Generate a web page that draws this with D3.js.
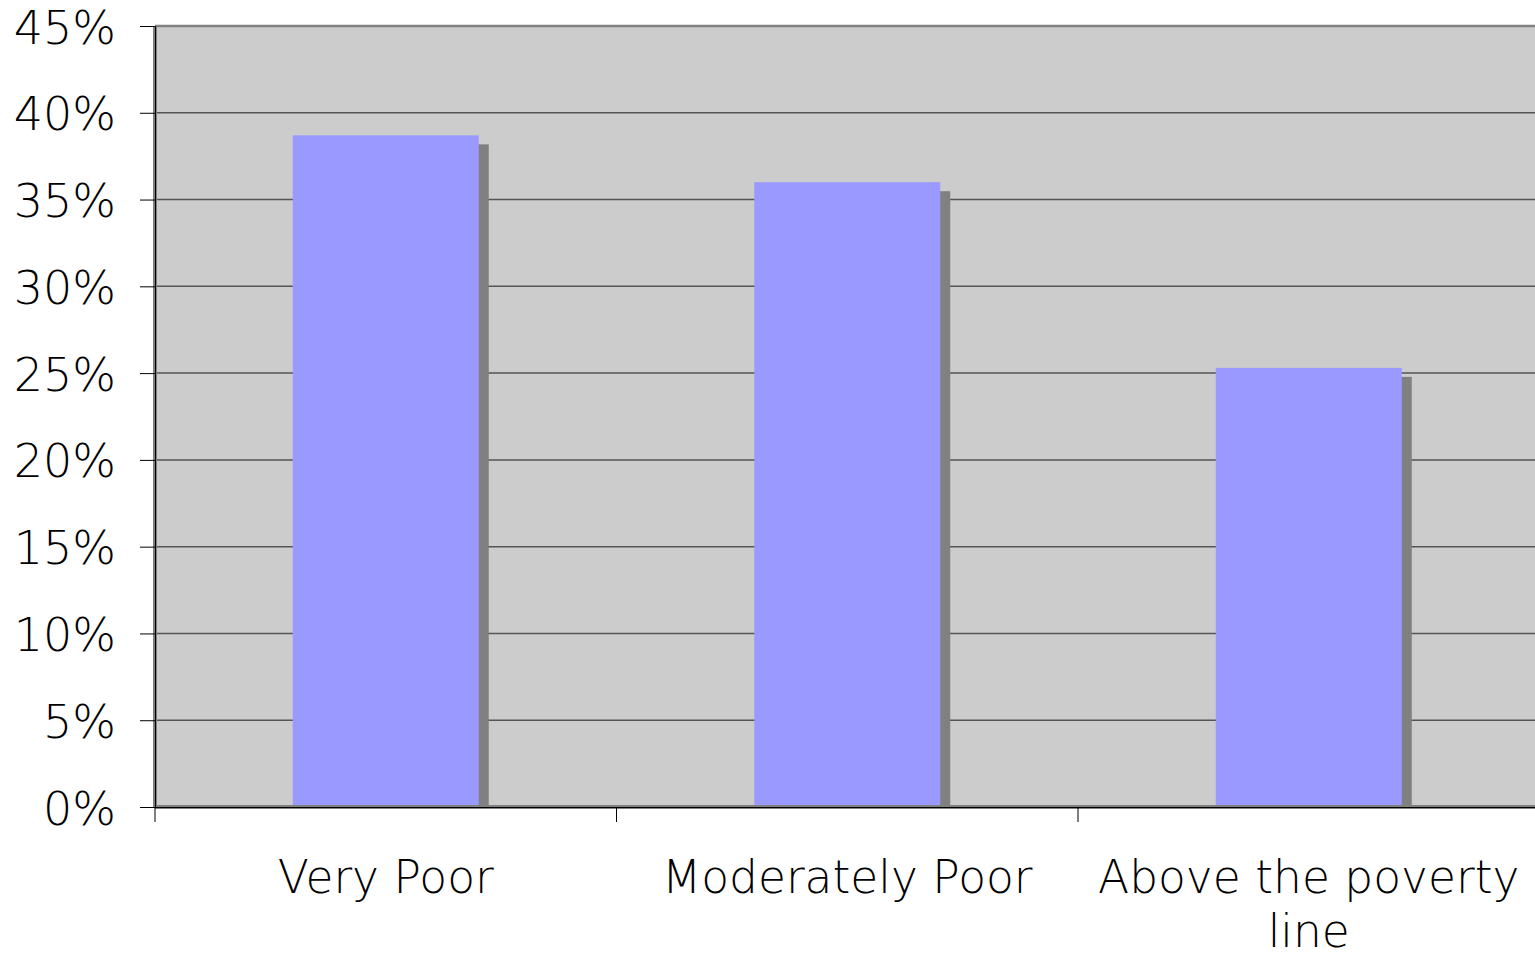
<!DOCTYPE html>
<html>
<head>
<meta charset="utf-8">
<script src="https://cdn.jsdelivr.net/npm/d3@7"></script>
<style>
  html, body { margin: 0; padding: 0; background: #ffffff; overflow: hidden; }
  svg { display: block; }
  text { font-family: "DejaVu Sans", Verdana, sans-serif; fill: #000; font-weight: 300; }
</style>
</head>
<body>
<svg id="chart" width="1535" height="957"></svg>
<script>
const categories = ["Very Poor", "Moderately Poor", "Above the poverty line"];
const categoryLines = [["Very Poor"], ["Moderately Poor"], ["Above the poverty", "line"]];
const values = [38.7, 36.0, 25.3];
const yTicks = [0, 5, 10, 15, 20, 25, 30, 35, 40, 45];

(function () {
const svg = d3.select("#chart");
const mLeft = 155, mTop = 26, mBottom = 807, mRight = 1539.5;

const x = d3.scaleBand().domain(categories).range([mLeft, mRight]).padding(0);
const y = d3.scaleLinear().domain([0, 45]).range([mBottom, mTop]);

const barW = x.bandwidth() * 0.403;
const shadowDx = 10, shadowDy = 9;

svg.append("rect")
  .attr("x", mLeft).attr("y", mTop)
  .attr("width", mRight - mLeft).attr("height", mBottom - mTop)
  .attr("fill", "#cccccc");

svg.append("line")
  .attr("x1", mLeft).attr("x2", mRight)
  .attr("y1", mTop).attr("y2", mTop)
  .attr("stroke", "#808080").attr("stroke-width", 2.5);

svg.append("g").selectAll("line")
  .data(yTicks.filter(d => d > 0 && d < 45))
  .join("line")
  .attr("x1", mLeft).attr("x2", mRight)
  .attr("y1", d => y(d)).attr("y2", d => y(d))
  .attr("stroke", "#555555").attr("stroke-width", 1.5);

svg.append("g").selectAll("rect")
  .data(values)
  .join("rect")
  .attr("x", (d, i) => x(categories[i]) + (x.bandwidth() - barW) / 2 + shadowDx)
  .attr("y", d => y(d) + shadowDy)
  .attr("width", barW)
  .attr("height", d => mBottom - y(d) - shadowDy)
  .attr("fill", "#808080");

svg.append("g").selectAll("rect")
  .data(values)
  .join("rect")
  .attr("x", (d, i) => x(categories[i]) + (x.bandwidth() - barW) / 2)
  .attr("y", d => y(d))
  .attr("width", barW)
  .attr("height", d => mBottom - y(d))
  .attr("fill", "#9999ff");

svg.append("line")
  .attr("x1", mLeft).attr("x2", mLeft).attr("y1", mTop).attr("y2", mBottom)
  .attr("stroke", "#808080").attr("stroke-width", 4);
svg.append("line")
  .attr("x1", mLeft).attr("x2", mRight).attr("y1", mBottom).attr("y2", mBottom)
  .attr("stroke", "#808080").attr("stroke-width", 4);

const yAxis = d3.axisLeft(y)
  .tickValues(yTicks)
  .tickSize(15)
  .tickPadding(24)
  .tickFormat(d => d + "%");
const gy = svg.append("g").attr("transform", `translate(${mLeft},0)`).call(yAxis);
gy.select(".domain").attr("stroke", "#000").attr("stroke-width", 1);
gy.selectAll(".tick line").attr("stroke", "#000").attr("stroke-width", 1);
gy.selectAll(".tick text")
  .attr("font-size", 46)
  .attr("dy", "0.37em")
  .attr("font-family", "'DejaVu Sans', Verdana, sans-serif")
  .attr("font-weight", 300)
  .attr("fill", "#000");

const xAxis = d3.axisBottom(x).tickSize(0).tickFormat("");
const gx = svg.append("g").attr("transform", `translate(0,${mBottom})`).call(xAxis);
gx.select(".domain").attr("stroke", "#000").attr("stroke-width", 1);
gx.selectAll(".tick").remove();
gx.append("g").selectAll("line")
  .data(categories)
  .join("line")
  .attr("x1", d => x(d)).attr("x2", d => x(d))
  .attr("y1", 0).attr("y2", 15)
  .attr("stroke", "#000").attr("stroke-width", 1);

const labels = svg.append("g").selectAll("text")
  .data(categories)
  .join("text")
  .attr("x", d => x(d) + x.bandwidth() / 2)
  .attr("y", 893)
  .attr("text-anchor", "middle")
  .attr("font-size", 45.5);
labels.each(function(d, i) {
  const t = d3.select(this);
  categoryLines[i].forEach((ln, j) => {
    t.append("tspan")
      .attr("x", x(d) + x.bandwidth() / 2)
      .attr("dy", j === 0 ? 0 : 54)
      .text(ln);
  });
});
})();
</script>
</body>
</html>
